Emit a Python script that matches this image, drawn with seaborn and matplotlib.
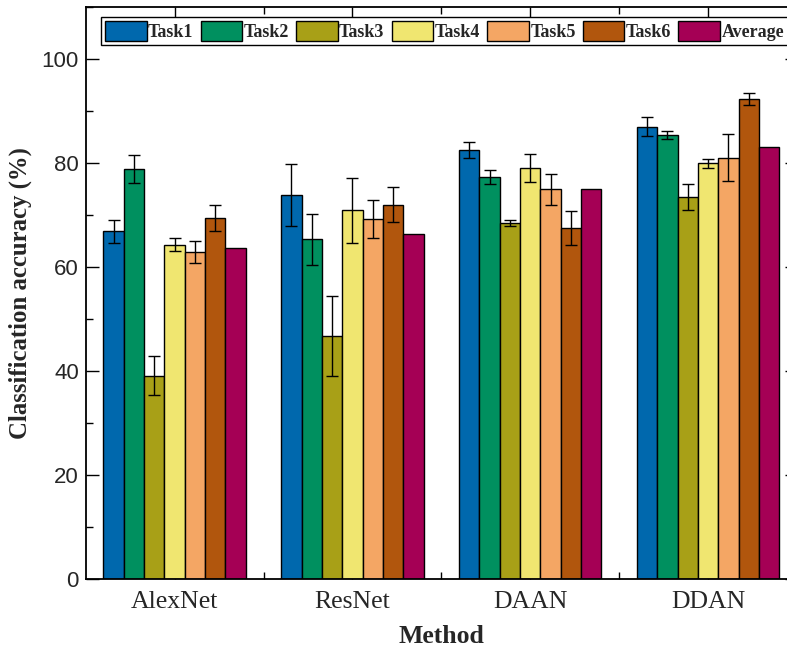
import numpy as np
import pandas as pd
import seaborn as sns
from matplotlib import pyplot as plt
from matplotlib.ticker import MultipleLocator, FixedLocator

# dados
metodos = ['AlexNet', 'ResNet', 'DAAN', 'DDAN']
tarefas = ['Task1', 'Task2', 'Task3', 'Task4', 'Task5', 'Task6', 'Average']

task1 = [66.9, 73.8, 82.5, 87.0]
task2 = [78.8, 65.3, 77.3, 85.4]
task3 = [39.1, 46.8, 68.5, 73.4]
task4 = [64.3, 70.9, 79.1, 79.9]
task5 = [62.8, 69.2, 74.9, 81.0]
task6 = [69.4, 72.0, 67.5, 92.3]
average = [63.6, 66.3, 75.0, 83.1]

err1 = [2.2, 6.0, 1.5, 1.9]
err2 = [2.7, 4.9, 1.3, 0.75]
err3 = [3.8, 7.7, 0.6, 2.5]
err4 = [1.3, 6.2, 2.7, 0.8]
err5 = [2.1, 3.6, 3.0, 4.5]
err6 = [2.5, 3.4, 3.2, 1.1]

cores = ['#0068AD', '#00905F', '#A8A017', '#F0E670', '#F4A664', '#B1560D', '#A50055']

valores = [task1, task2, task3, task4, task5, task6, average]
erros = [err1, err2, err3, err4, err5, err6]

linhas = []
for t, vals in zip(tarefas, valores):
    for m, v in zip(metodos, vals):
        linhas.append({'Method': m, 'Task': t, 'acc': v})
df = pd.DataFrame(linhas)

sns.set_theme(style='ticks')
plt.rcParams['font.family'] = ['Liberation Sans', 'DejaVu Sans']
serif = ['Liberation Serif', 'DejaVu Serif']

fig = plt.figure(figsize=(7.87, 6.49), dpi=100)
ax = fig.add_axes([0.1089, 0.1079, 0.9038, 0.8814])

sns.barplot(data=df, x='Method', y='acc', hue='Task', order=metodos, hue_order=tarefas,
            palette=cores, saturation=1, edgecolor='black', linewidth=1.0, errorbar=None,
            width=0.8, legend=False, ax=ax)

for cont, err in zip(ax.containers[:6], erros):
    xs = [p.get_x() + p.get_width() / 2 for p in cont.patches]
    hs = [p.get_height() for p in cont.patches]
    ax.errorbar(xs, hs, yerr=err, fmt='none', ecolor='black', elinewidth=1.0,
                capsize=4.3, capthick=1.0, zorder=5)

ax.set_xlim(-0.5, 3.5)
ax.set_ylim(0, 110)
ax.yaxis.set_major_locator(FixedLocator([0, 20, 40, 60, 80, 100]))
ax.yaxis.set_minor_locator(MultipleLocator(10))
ax.xaxis.set_minor_locator(FixedLocator([0.5, 1.5, 2.5]))

ax.tick_params(which='both', direction='in', top=True, right=True, width=1.0, color='black')
ax.tick_params(which='major', length=9)
ax.tick_params(which='minor', length=5)
ax.tick_params(axis='y', labelsize=16, pad=5)
ax.tick_params(axis='x', pad=9)
for lab in ax.get_xticklabels():
    lab.set_family(serif)
    lab.set_fontsize(18.5)

for s in ax.spines.values():
    s.set_linewidth(1.3)
    s.set_color('black')

ax.set_xlabel('Method', family=serif, fontsize=18.5, fontweight='bold', labelpad=8)
ax.set_ylabel('Classification accuracy (%)', family=serif, fontsize=17.8, fontweight='bold', labelpad=7)

leg = ax.legend(ax.containers, tarefas, ncol=7, loc='upper left',
                bbox_to_anchor=(101 / 787, 1 - 17 / 649), bbox_transform=fig.transFigure,
                prop={'family': serif, 'weight': 'bold', 'size': 13},
                frameon=True, fancybox=False, edgecolor='black', framealpha=1,
                handlelength=2.3, handleheight=1.3, handletextpad=0.08,
                columnspacing=0.4, borderpad=0.22, borderaxespad=0)
leg.get_frame().set_linewidth(1.0)

fig.savefig('out.png', dpi=100)
